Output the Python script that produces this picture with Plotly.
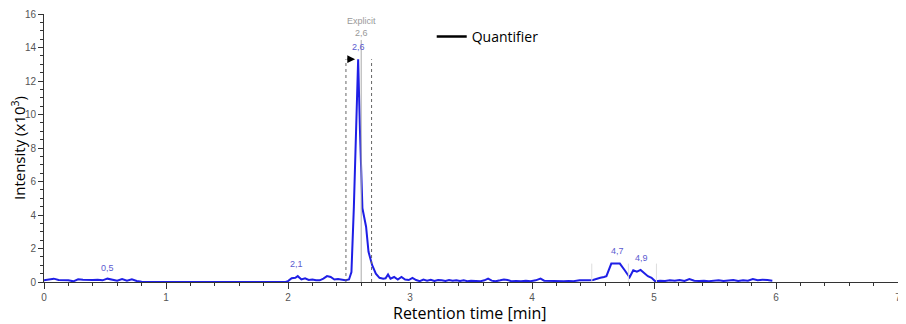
import plotly.graph_objects as go

# Retention time (min) and intensity (x10^3)
time_min = [0.00, 0.04, 0.08, 0.12, 0.16, 0.20, 0.24, 0.28, 0.32, 0.36, 0.40, 0.44, 0.48,
            0.52, 0.56, 0.60, 0.64, 0.68, 0.72, 0.76, 0.80, 1.20, 1.60, 1.98,
            2.00, 2.03, 2.06, 2.08, 2.11, 2.14, 2.17, 2.20, 2.23, 2.26, 2.29, 2.32, 2.35,
            2.38, 2.41, 2.44, 2.47, 2.50, 2.52, 2.54, 2.56, 2.575, 2.59, 2.61, 2.64, 2.66,
            2.69, 2.72, 2.75, 2.78, 2.80, 2.82, 2.84, 2.87, 2.90, 2.93, 2.96, 2.99, 3.02,
            3.05, 3.08, 3.11, 3.14, 3.17, 3.20, 3.23, 3.26, 3.29, 3.32, 3.35, 3.38, 3.41,
            3.44, 3.47, 3.50, 3.54, 3.58, 3.61, 3.64, 3.67, 3.70, 3.74, 3.77, 3.80, 3.83,
            3.87, 3.91, 3.95, 3.99, 4.03, 4.07, 4.10, 4.14, 4.18, 4.22, 4.26, 4.30, 4.34,
            4.39, 4.43, 4.47, 4.50, 4.53, 4.56, 4.59, 4.61, 4.65, 4.69, 4.72, 4.76, 4.80,
            4.83, 4.86, 4.89, 4.92, 4.95, 4.98, 5.01, 5.05, 5.09, 5.13, 5.17, 5.21, 5.25,
            5.29, 5.33, 5.37, 5.41, 5.45, 5.49, 5.53, 5.57, 5.61, 5.65, 5.69, 5.73, 5.77,
            5.81, 5.85, 5.89, 5.93, 5.97]
intensity = [0.10, 0.14, 0.20, 0.12, 0.13, 0.10, 0.04, 0.16, 0.14, 0.11, 0.12, 0.13, 0.10,
             0.20, 0.15, 0.08, 0.18, 0.08, 0.16, 0.06, 0.02, 0.00, 0.00, 0.00,
             0.05, 0.22, 0.25, 0.35, 0.15, 0.22, 0.12, 0.15, 0.10, 0.10, 0.20, 0.35, 0.30,
             0.15, 0.18, 0.12, 0.10, 0.15, 0.60, 4.50, 10.00, 13.30, 9.00, 4.40, 3.30, 1.80,
             1.00, 0.50, 0.25, 0.20, 0.22, 0.45, 0.20, 0.30, 0.15, 0.30, 0.15, 0.12, 0.25,
             0.12, 0.05, 0.14, 0.08, 0.13, 0.06, 0.12, 0.10, 0.06, 0.12, 0.08, 0.10, 0.06,
             0.10, 0.05, 0.08, 0.06, 0.05, 0.10, 0.20, 0.08, 0.04, 0.10, 0.15, 0.12, 0.05,
             0.06, 0.04, 0.08, 0.05, 0.10, 0.20, 0.08, 0.06, 0.05, 0.03, 0.04, 0.06, 0.05,
             0.10, 0.08, 0.10, 0.12, 0.20, 0.25, 0.30, 0.35, 1.10, 1.12, 1.10, 0.70, 0.28,
             0.70, 0.62, 0.72, 0.55, 0.35, 0.25, 0.04, 0.08, 0.06, 0.10, 0.07, 0.12, 0.06,
             0.18, 0.08, 0.06, 0.08, 0.05, 0.07, 0.10, 0.06, 0.08, 0.12, 0.06, 0.10, 0.08,
             0.18, 0.10, 0.14, 0.12, 0.08]

peak_label_times = [0.52, 2.07, 2.575, 4.70, 4.90]
peak_label_values = [0.10, 0.35, 13.30, 1.12, 0.72]
peak_label_texts = ["0,5", "2,1", "2,6", "4,7", "4,9"]

integration_bounds = [2.475, 2.685]
explicit_rt = 2.60
faint_bounds = [4.49, 4.79, 5.02]

x_ticks = [0, 1, 2, 3, 4, 5, 6, 7]
y_ticks = [0, 2, 4, 6, 8, 10, 12, 14, 16]

fig = go.Figure()
fig.add_trace(go.Scatter(x=time_min, y=intensity, mode="lines",
                         line=dict(color="#1f1fe6", width=2), showlegend=False,
                         hoverinfo="skip"))
fig.add_trace(go.Scatter(x=[None], y=[None], mode="lines", name="Quantifier",
                         line=dict(color="black", width=2.5)))

for t, v, s in zip(peak_label_times, peak_label_values, peak_label_texts):
    fig.add_annotation(x=t, y=v, text=s, showarrow=False, yshift=12,
                       font=dict(family="Liberation Sans, Arial", size=9, color="#5a5ad0"))

for b in integration_bounds:
    fig.add_shape(type="line", x0=b, x1=b, y0=0, y1=13.3, xref="x", yref="y",
                  line=dict(color="#666666", width=1, dash="dot"))
for b in faint_bounds:
    fig.add_shape(type="line", x0=b, x1=b, y0=0, y1=1.1, xref="x", yref="y",
                  line=dict(color="#dddddd", width=1))
fig.add_shape(type="line", x0=explicit_rt, x1=explicit_rt, y0=0, y1=14.45, xref="x", yref="y",
              line=dict(color="#aaaaaa", width=1))
fig.add_annotation(x=explicit_rt, y=14.45, text="Explicit<br>2,6", showarrow=False,
                   yanchor="bottom", yshift=0,
                   font=dict(family="Liberation Sans, Arial", size=9, color="#999999"))
fig.add_annotation(x=integration_bounds[0] + 0.075, y=13.3, ax=integration_bounds[0], ay=13.3,
                   axref="x", ayref="y", xref="x", yref="y", text="",
                   showarrow=True, arrowhead=2, arrowsize=1.3, arrowwidth=1.2,
                   arrowcolor="black", startstandoff=0)

fig.add_annotation(x=0, y=0.5, xref="paper", yref="paper", xanchor="center", yanchor="middle",
                   xshift=-26, textangle=-90, showarrow=False,
                   text="Intensity (x10<sup>3</sup>)",
                   font=dict(family="Open Sans, Liberation Sans", size=15, color="black"))
fig.add_annotation(x=0.499, y=0, xref="paper", yref="paper", xanchor="center", yanchor="middle",
                   yshift=-31, showarrow=False,
                   text="Retention time [min]",
                   font=dict(family="Open Sans, Liberation Sans", size=16, color="black"))

axis_font = dict(family="Liberation Sans, Arial", size=10, color="#555555")
# page body has an 8px margin, so the figure is sized/offset to fit the window
fig.update_layout(
    width=898, height=316,
    margin=dict(l=36, r=8, t=6, b=42),
    paper_bgcolor="white", plot_bgcolor="white",
    showlegend=True,
    legend=dict(x=0.454, y=0.974, xanchor="left", yanchor="top",
                bgcolor="rgba(0,0,0,0)",
                font=dict(family="Open Sans, Liberation Sans", size=14, color="black")),
    xaxis=dict(range=[0, 7], tickvals=x_ticks, showgrid=False, zeroline=False,
               automargin=False,
               showline=True, linecolor="#333333", linewidth=1,
               ticks="outside", ticklen=6, tickcolor="#333333",
               minor=dict(dtick=0.2, ticks="outside", ticklen=3, tickcolor="#333333"),
               tickfont=axis_font),
    yaxis=dict(range=[0, 16], tickvals=y_ticks, showgrid=False, zeroline=False,
               automargin=False,
               showline=True, linecolor="#333333", linewidth=1,
               ticks="outside", ticklen=5, tickcolor="#333333",
               minor=dict(dtick=0.5, ticks="outside", ticklen=3, tickcolor="#333333"),
               tickfont=axis_font),
)

fig.write_html("out.html")
